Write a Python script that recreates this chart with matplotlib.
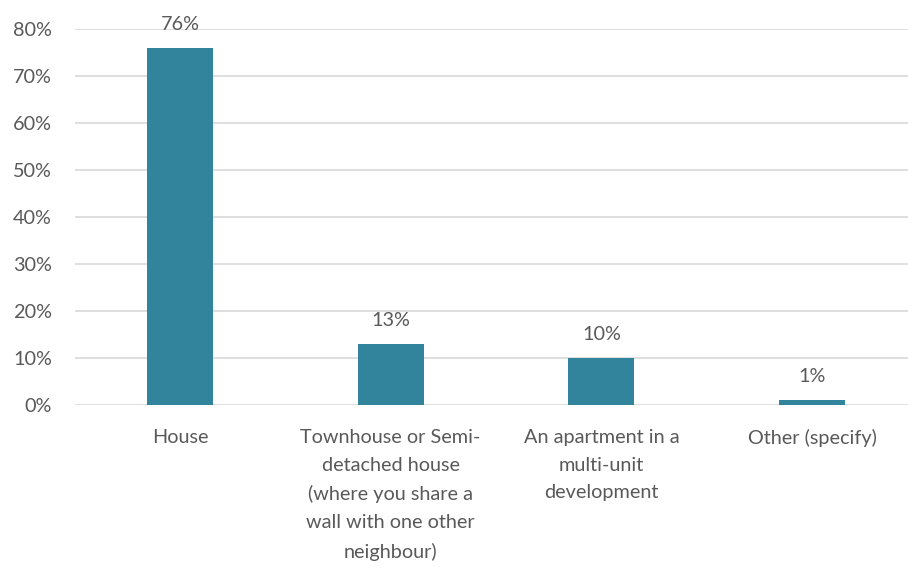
import matplotlib
matplotlib.use("Agg")
import matplotlib.pyplot as plt
from matplotlib.ticker import PercentFormatter

plt.rcParams['font.family'] = ['Lato', 'DejaVu Sans']

categories = ['House',
              'Townhouse or Semi-\ndetached house\n(where you share a\nwall with one other\nneighbour)',
              'An apartment in a\nmulti-unit\ndevelopment',
              'Other (specify)']
values = [0.76, 0.13, 0.10, 0.01]
labels = ['76%', '13%', '10%', '1%']

txt = '#595959'
fs = 14.3
fig = plt.figure(figsize=(9.08, 5.67), dpi=100)
ax = fig.add_axes([75/908, 1-405/567, 833/908, 376/567])

x = range(len(categories))
bars = ax.bar(x, values, width=0.313, color='#31849B', zorder=3)
for b, l in zip(bars, labels):
    ax.text(b.get_x() + b.get_width()/2, b.get_height() + 0.032, l,
            ha='center', va='bottom', fontsize=fs, color=txt)

ax.set_ylim(0, 0.8)
ax.set_xlim(-0.498, 3.455)
ax.set_yticks([i/10 for i in range(9)])
ax.yaxis.set_major_formatter(PercentFormatter(1.0, decimals=0))
ax.set_xticks(list(x))
ax.set_xticklabels(categories, fontsize=fs, color=txt, linespacing=1.78, va='top')
ax.tick_params(axis='y', labelsize=fs, labelcolor=txt, length=0, pad=16.5)
ax.tick_params(axis='x', length=0, pad=17)
ax.grid(axis='y', color='#D9D9D9', linewidth=1.2, zorder=0)
for s in ax.spines.values():
    s.set_visible(False)

fig.savefig('out.png', dpi=100)
